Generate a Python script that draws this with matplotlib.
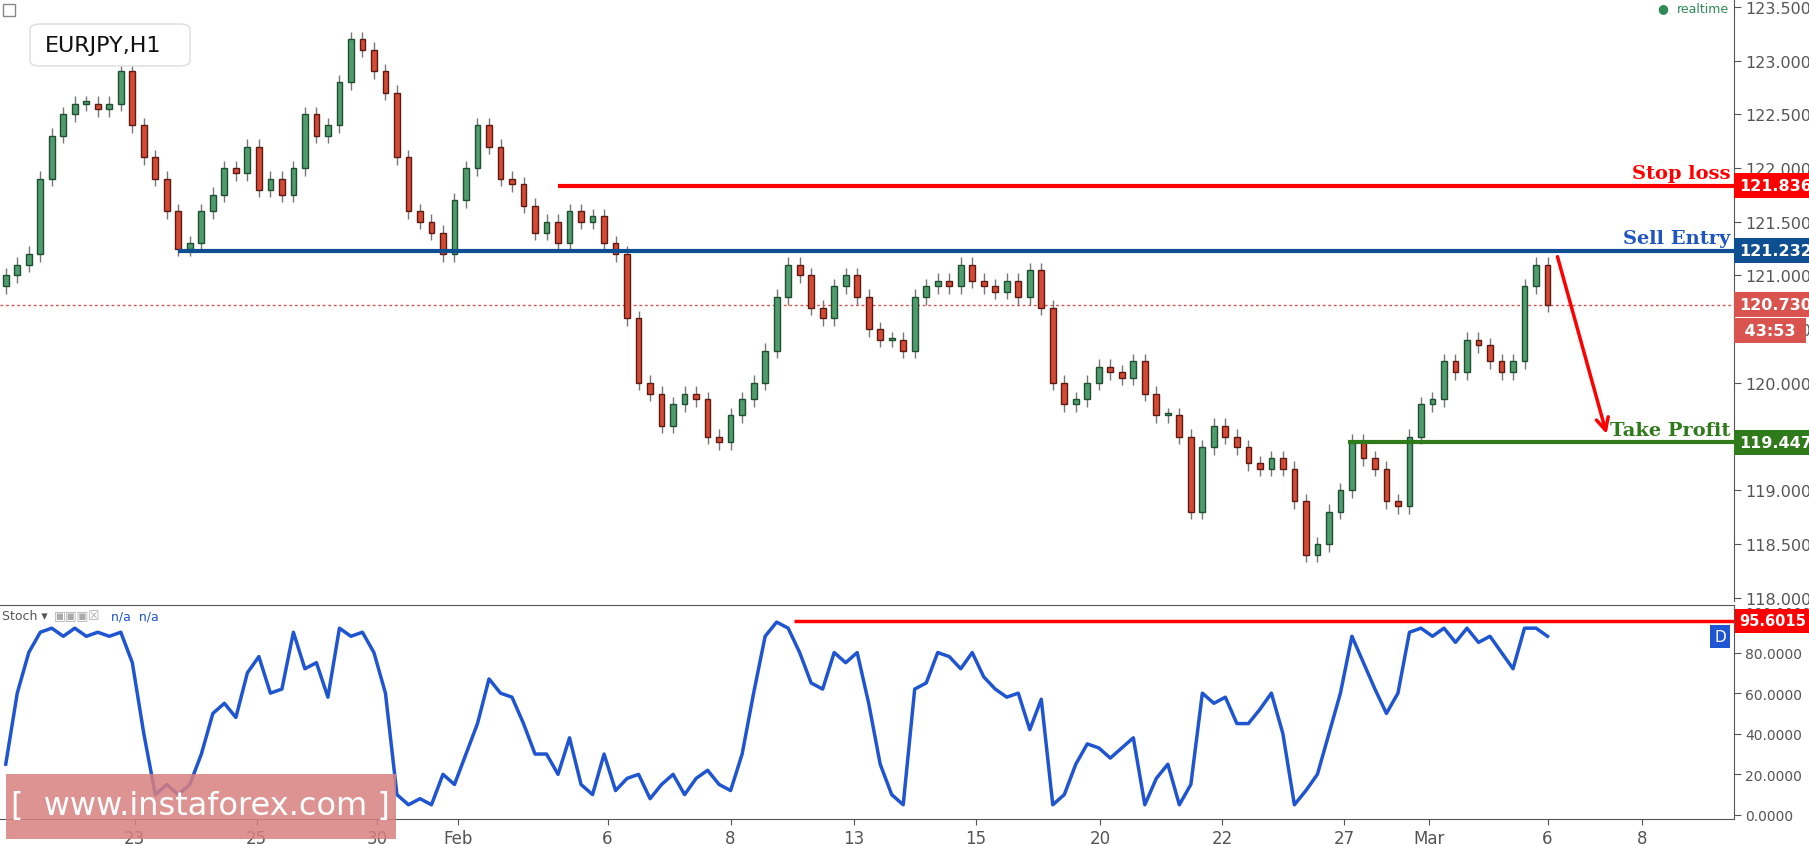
import matplotlib.pyplot as plt
import matplotlib.transforms as mtransforms
from matplotlib.patches import FancyBboxPatch, Rectangle
import numpy as np

# ----- Data (4-hour closes) -----
closes = [121.0, 121.1, 121.2, 121.9, 122.3, 122.5, 122.6, 122.6, 122.55, 122.6,
          122.9, 122.4, 122.1, 121.9, 121.6, 121.25, 121.3, 121.6, 121.75, 122.0,
          121.95, 122.2, 121.8, 121.9, 121.75, 122.0, 122.5, 122.3, 122.4, 122.8,
          123.2, 123.1, 122.9, 122.7, 122.1, 121.6, 121.5, 121.4, 121.2, 121.7,
          122.0, 122.4, 122.2, 121.9, 121.85, 121.65, 121.4, 121.5, 121.3, 121.6,
          121.5, 121.55, 121.3, 121.2, 120.6, 120.0, 119.9, 119.6, 119.8, 119.9,
          119.85, 119.5, 119.45, 119.7, 119.85, 120.0, 120.3, 120.8, 121.1, 121.0,
          120.7, 120.6, 120.9, 121.0, 120.8, 120.5, 120.4, 120.4, 120.3, 120.8,
          120.9, 120.95, 120.9, 121.1, 120.95, 120.9, 120.85, 120.95, 120.8, 121.05,
          120.7, 120.0, 119.8, 119.85, 120.0, 120.15, 120.1, 120.05, 120.2, 119.9,
          119.7, 119.7, 119.5, 118.8, 119.4, 119.6, 119.5, 119.4, 119.25, 119.2,
          119.3, 119.2, 118.9, 118.4, 118.5, 118.8, 119.0, 119.45, 119.3, 119.2,
          118.9, 118.85, 119.5, 119.8, 119.85, 120.2, 120.1, 120.4, 120.35, 120.2,
          120.1, 120.2, 120.9, 121.1, 120.73]
stoch = [25, 60, 80, 90, 92, 88, 92, 88, 90, 88, 90, 75, 40, 10, 15, 10, 15, 30, 50, 55,
         48, 70, 78, 60, 62, 90, 72, 75, 58, 92, 88, 90, 80, 60, 10, 5, 8, 5, 20, 15,
         30, 45, 67, 60, 58, 45, 30, 30, 20, 38, 15, 10, 30, 12, 18, 20, 8, 15, 20, 10,
         18, 22, 15, 12, 30, 60, 88, 95, 92, 80, 65, 62, 80, 75, 80, 55, 25, 10, 5, 62,
         65, 80, 78, 72, 80, 68, 62, 58, 60, 42, 57, 5, 10, 25, 35, 33, 28, 33, 38, 5,
         18, 25, 5, 15, 60, 55, 58, 45, 45, 52, 60, 40, 5, 12, 20, 40, 60, 88, 75, 62,
         50, 60, 90, 92, 88, 92, 85, 92, 85, 88, 80, 72, 92, 92, 88]
date_labels = ["23", "25", "30", "Feb", "6", "8", "13", "15", "20", "22", "27", "Mar", "6", "8"]
date_pos = [11.2, 21.8, 32.3, 39.3, 52.3, 63, 73.7, 84.3, 95.1, 105.7, 116.3, 123.7, 134, 142.2]
first_open = 120.9
stop_loss, sell_entry, take_profit = 121.836, 121.232, 119.447
last_price = 120.730
stoch_level = 95.6015

# ----- Figure -----
fig = plt.figure(figsize=(18.09, 8.45), dpi=100)
ax = fig.add_axes([0, 0.2876, 0.9585, 0.7124])
axs = fig.add_axes([0, 0.0296, 0.9585, 0.2532])
xmax = 150.2

opens = [first_open] + closes[:-1]
idx = np.arange(len(closes))
up_c, up_e = "#4f9c6c", "#1f4f30"
dn_c, dn_e = "#d44a34", "#5c1b12"
for i, (o, c) in enumerate(zip(opens, closes)):
    up = c >= o
    lo, hi = min(o, c), max(o, c)
    ax.vlines(i, lo - 0.07, hi + 0.07, color="#777777", lw=1, zorder=1)
    ax.bar(i, max(hi - lo, 0.02), bottom=lo, width=0.5,
           color=up_c if up else dn_c, edgecolor=up_e if up else dn_e, lw=1, zorder=2)

ax.set_xlim(-0.5, xmax)
ax.set_ylim(117.97, 123.574)
ax.yaxis.tick_right()
ax.set_yticks(np.arange(118.0, 123.51, 0.5))
ax.set_yticklabels([f"{v:.3f}" for v in np.arange(118.0, 123.51, 0.5)])
ax.tick_params(axis="y", direction="out", length=5, colors="#555555", labelsize=11.5, pad=3)
ax.set_xticks([])
for s in ["top", "left", "bottom"]:
    ax.spines[s].set_visible(False)
ax.spines["right"].set_color("#555555")

# levels
ax.hlines(stop_loss, 48, xmax, color="#ff0000", lw=3, zorder=3)
ax.hlines(sell_entry, 15, xmax, color="#0d4f91", lw=3, zorder=3)
ax.hlines(take_profit, 116.7, xmax, color="#2f7a1a", lw=3, zorder=3)
ax.axhline(last_price, color="#d9534f", lw=1, ls=(0, (2, 2)), zorder=1)
ax.annotate("", xy=(139.2, 119.5), xytext=(134.8, 121.2),
            arrowprops=dict(arrowstyle="->", color="#ff0000", lw=2.5, mutation_scale=22))

for lvl, txt, col in [(stop_loss, "Stop loss", "#ff0000"), (sell_entry, "Sell Entry", "#1f55c0"),
                      (take_profit, "Take Profit", "#2f7a1a")]:
    ax.text(149.9, lvl + 0.03, txt, color=col, fontsize=14, fontweight="bold",
            ha="right", va="bottom", family="DejaVu Serif", zorder=5)

trans = mtransforms.blended_transform_factory(ax.transAxes, ax.transData)
def tag(a, y, text, color, tr, size=11.5):
    a.text(1.003, y, text, transform=tr, color="white", fontsize=size, fontweight="bold",
           ha="left", va="center", clip_on=False,
           bbox=dict(boxstyle="square,pad=0.3", fc=color, ec="none"))
tag(ax, stop_loss, "121.836", "#ff0000", trans)
tag(ax, sell_entry, "121.232", "#0d4f91", trans)
tag(ax, last_price, "120.730", "#d9534f", trans)
tag(ax, last_price - 0.24, " 43:53 ", "#d9534f", trans)
tag(ax, take_profit, "119.447", "#2f7a1a", trans)

ax.text(0.962, 0.985, "\u25cf", transform=ax.transAxes, color="#2e8b57", fontsize=9, ha="right", va="center")
ax.text(0.997, 0.985, "realtime", transform=ax.transAxes, color="#2e8b57", fontsize=9, ha="right", va="center")

# symbol box
fig.patches.append(FancyBboxPatch((30 / 1809, 1 - 67 / 845), 160 / 1809, 42 / 845,
                                  boxstyle="round,pad=0,rounding_size=0.006",
                                  transform=fig.transFigure, fc="white", ec="#dddddd", lw=1))
fig.text(45 / 1809, 1 - 46 / 845, "EURJPY,H1", fontsize=16, va="center", color="#111111")
fig.patches.append(Rectangle((3 / 1809, 1 - 17 / 845), 12 / 1809, 12 / 845,
                             transform=fig.transFigure, fc="white", ec="#888888", lw=1))

# ----- Stochastic -----
axs.plot(idx, stoch, color="#1f55d0", lw=2.5)
axs.hlines(stoch_level, 68.5, xmax, color="#ff0000", lw=2.5)
axs.set_xlim(-0.5, xmax)
axs.set_ylim(-2.0, 103.4)
axs.yaxis.tick_right()
axs.set_yticks(np.arange(0, 101, 20))
axs.set_yticklabels([f"{v:.4f}" for v in np.arange(0, 101, 20)])
axs.tick_params(axis="y", direction="out", length=5, colors="#555555", labelsize=10, pad=3)
axs.set_xticks(date_pos)
axs.set_xticklabels(date_labels)
axs.tick_params(axis="x", direction="out", length=4, colors="#555555", labelsize=12)
axs.spines["left"].set_visible(False)
for s in ["right", "top", "bottom"]:
    axs.spines[s].set_color("#555555")
strans = mtransforms.blended_transform_factory(axs.transAxes, axs.transData)
tag(axs, stoch_level, "95.6015", "#ff0000", strans, size=10.5)
axs.text(0.992, 88, "D", transform=strans, color="white", fontsize=11, ha="center", va="center",
         bbox=dict(boxstyle="square,pad=0.25", fc="#1f55d0", ec="none"))
axs.text(0.001, 0.95, "Stoch \u25be", transform=axs.transAxes, color="#555555", fontsize=9, va="center")
axs.text(0.031, 0.95, "\u25a3\u25a3\u25a3\u2612", transform=axs.transAxes, color="#aaaaaa", fontsize=9, va="center")
axs.text(0.064, 0.95, "n/a  n/a", transform=axs.transAxes, color="#1f55d0", fontsize=9, va="center")

# watermark
fig.patches.append(Rectangle((6 / 1809, 5 / 845), 390 / 1809, 65 / 845,
                             transform=fig.transFigure, fc="#d98080", ec="none", alpha=0.85))
fig.text(200 / 1809, 38 / 845, "[  www.instaforex.com ]", color="white", fontsize=23,
         ha="center", va="center")

plt.savefig("out.png", dpi=100)
